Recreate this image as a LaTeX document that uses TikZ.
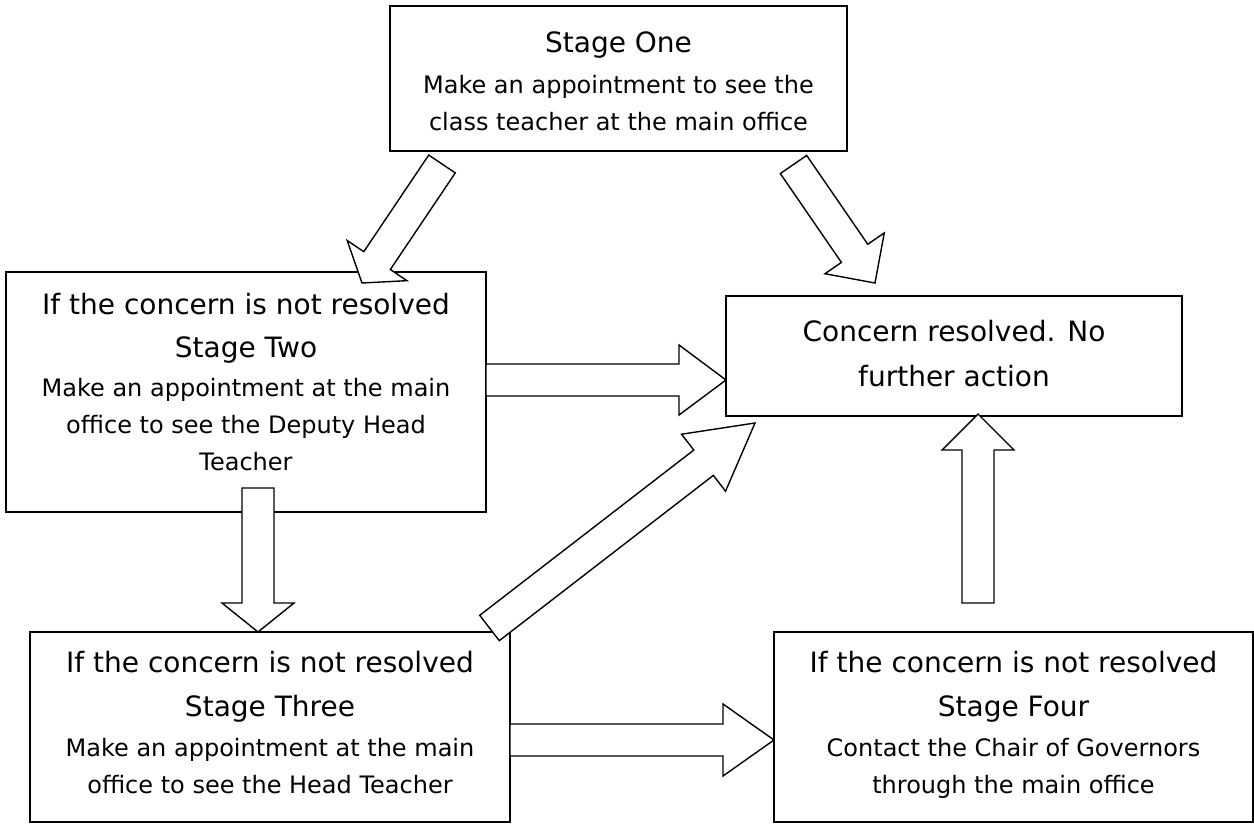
\documentclass[tikz,border=0pt]{standalone}
\usepackage{fontspec}
\setmainfont{DejaVu Sans}
\usetikzlibrary{calc}

\tikzset{
  box/.style={draw, line width=1.4pt, inner sep=0pt},
  txt/.style={align=center, inner sep=0pt, anchor=north, font=\fontsize{24}{37}\selectfont},
  hollow/.style={draw, fill=white, line width=1.4pt, line join=miter},
}
\newcommand{\hd}{\fontsize{28}{43}\selectfont}
% hollow block arrow: from, to, head length, half head width
\newcommand{\blockarrow}[4]{%
  \draw[hollow] ($(#1)!16pt!90:(#2)$)
    -- ($(#2)!#3!(#1)!16pt!-90:(#1)$)
    -- ($(#2)!#3!(#1)!#4!-90:(#1)$)
    -- (#2)
    -- ($(#2)!#3!(#1)!#4!90:(#1)$)
    -- ($(#2)!#3!(#1)!16pt!90:(#1)$)
    -- ($(#1)!16pt!-90:(#2)$) -- cycle;}

\begin{document}
\begin{tikzpicture}[x=1pt, y=-1pt]
   \fill[white] (0,0) rectangle (1254,824);
   \useasboundingbox (0,0) rectangle (1254,824);
   % boxes
   \node (1) [box, minimum width=457pt, minimum height=145pt] at (618.5,78.5) {};
   \node (2) [box, minimum width=480pt, minimum height=240pt] at (246,392) {};
   \node (5) [box, minimum width=456pt, minimum height=120pt] at (954,356) {};
   \node (3) [box, minimum width=480pt, minimum height=190pt] at (270,727) {};
   \node (4) [box, minimum width=479pt, minimum height=190pt] at (1013.5,727) {};
   \node (1t) [txt] at ([yshift=-26pt]1.north) {{\hd Stage One}\\[4pt]
      Make an appointment to see the\\ class teacher at the main office};
   \node (2t) [txt] at ([yshift=-21.7pt]2.north) {{\hd If the concern is not resolved}\\[6pt]
      {\hd Stage Two}\\[2pt] Make an appointment at the main\\
      office to see the Deputy Head\\ Teacher};
   \node (5t) [txt] at ([yshift=-24.7pt]5.north) {{\hd Concern resolved. No}\\[8pt]
      {\hd further action}};
   \node (3t) [txt] at ([yshift=-19.7pt]3.north) {{\hd If the concern is not resolved}\\[7pt]
      {\hd Stage Three}\\[3pt] Make an appointment at the main\\
      office to see the Head Teacher};
   \node (4t) [txt] at ([yshift=-19.7pt]4.north) {{\hd If the concern is not resolved}\\[7pt]
      {\hd Stage Four}\\[3pt] Contact the Chair of Governors\\
      through the main office};
   % arrow ends
   \coordinate (12a) at (442,164);   \coordinate (12b) at (362,283);
   \coordinate (15a) at (793.5,164.5); \coordinate (15b) at (875,283);
   \coordinate (25a) at (486,380);   \coordinate (25b) at (726,380);
   \coordinate (23a) at (258,488);   \coordinate (23b) at (258,632);
   \coordinate (35a) at (489.5,628); \coordinate (35b) at (755,423);
   \coordinate (34a) at (510,740);   \coordinate (34b) at (774,740);
   \coordinate (45a) at (978,603);   \coordinate (45b) at (978,414);
   \blockarrow{12a}{12b}{27pt}{36pt}
   \blockarrow{15a}{15b}{36pt}{36pt}
   \blockarrow{25a}{25b}{47pt}{35pt}
   \blockarrow{23a}{23b}{29pt}{36pt}
   \blockarrow{35a}{35b}{65pt}{36pt}
   \blockarrow{34a}{34b}{51pt}{36pt}
   \blockarrow{45a}{45b}{36pt}{36pt}
\end{tikzpicture}
\end{document}
